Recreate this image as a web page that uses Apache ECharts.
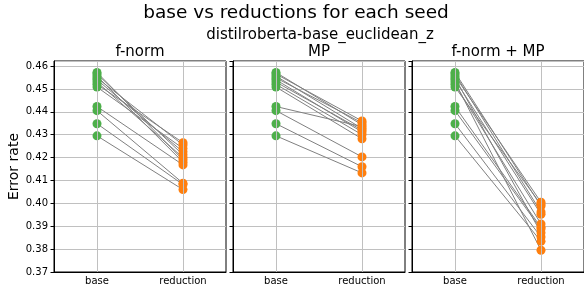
<!DOCTYPE html>
<html>
<head>
<meta charset="utf-8">
<script src="https://cdn.jsdelivr.net/npm/echarts@6/dist/echarts.min.js"></script>
<style>
  html, body { margin: 0; padding: 0; background: #fff; }
  #chart { width: 584px; height: 291px; }
</style>
</head>
<body>
<div id="chart"></div>
<script>
// data
var categories = ["base", "reduction"];
var panelTitles = ["f-norm", "MP", "f-norm + MP"];
var yTickLabels = ["0.37", "0.38", "0.39", "0.40", "0.41", "0.42", "0.43", "0.44", "0.45", "0.46"];

// one value per seed
var baseRate = [0.4572, 0.4565, 0.4556, 0.4548, 0.4540, 0.4530, 0.4520, 0.4508, 0.4423, 0.4405, 0.4348, 0.4295];
var fnormRate = [0.4190, 0.4212, 0.4180, 0.4255, 0.4225, 0.4200, 0.4265, 0.4240, 0.4168, 0.4088, 0.4082, 0.4060];
var mpRate = [0.4343, 0.4360, 0.4327, 0.4352, 0.4312, 0.4320, 0.4300, 0.4282, 0.4335, 0.4203, 0.4160, 0.4133];
var fnormMpRate = [0.3988, 0.3962, 0.4005, 0.3871, 0.3952, 0.3795, 0.3910, 0.3995, 0.3895, 0.3888, 0.3853, 0.3834];

var reductions = [fnormRate, mpRate, fnormMpRate];

var font = "DejaVu Sans";
var panelLeft = [54, 233, 412];
var panelWidth = 172;

var chart = echarts.init(document.getElementById("chart"));

var grids = [], xAxes = [], yAxes = [], series = [], graphics = [];

graphics.push({
  type: "text", x: 296, y: 13,
  style: { text: "base vs reductions for each seed", font: "18.5px " + font, fill: "#000", textAlign: "center", textVerticalAlign: "middle" }
});
graphics.push({
  type: "text", x: 320, y: 35,
  style: { text: "distilroberta-base_euclidean_z", font: "15px " + font, fill: "#000", textAlign: "center", textVerticalAlign: "middle" }
});

panelTitles.forEach(function (name, g) {
  grids.push({
    left: panelLeft[g], top: 61, width: panelWidth, height: 211,
    show: true, borderColor: "#000", borderWidth: 1, backgroundColor: "transparent"
  });

  graphics.push({
    type: "text", x: panelLeft[g] + panelWidth / 2, y: 52,
    style: { text: name, font: "15px " + font, fill: "#000", textAlign: "center", textVerticalAlign: "middle" }
  });

  xAxes.push({
    type: "category", gridIndex: g, data: categories, boundaryGap: true,
    axisLine: { lineStyle: { color: "#000", width: 1 } },
    axisTick: { alignWithLabel: true, length: 3.5, lineStyle: { color: "#000" } },
    axisLabel: { fontFamily: font, fontSize: 10, color: "#000", margin: 4 },
    splitLine: { show: false }
  });

  yAxes.push({
    type: "value", gridIndex: g, min: 0.37, max: 0.4622, interval: 0.01,
    name: g === 0 ? "Error rate" : "",
    nameLocation: "middle", nameGap: 33,
    nameTextStyle: { fontFamily: font, fontSize: 14, color: "#000" },
    axisLine: { show: true, lineStyle: { color: "#000", width: 1 } },
    axisTick: { show: true, length: 3.5, lineStyle: { color: "#000" } },
    axisLabel: {
      show: g === 0, fontFamily: font, fontSize: 10, color: "#000", margin: 6,
      showMaxLabel: false,
      formatter: function (v) {
        var idx = Math.round((v - 0.37) / 0.01);
        return yTickLabels[idx] || "";
      }
    },
    splitLine: { show: true, lineStyle: { color: "#c0c0c0", width: 1 } }
  });

  // vertical grid lines at the two categories
  series.push({
    type: "line", xAxisIndex: g, yAxisIndex: g, data: [], z: 1, silent: true,
    markLine: {
      silent: true, symbol: "none", label: { show: false },
      lineStyle: { color: "#c0c0c0", width: 1, type: "solid" },
      data: categories.map(function (c) { return { xAxis: c }; })
    }
  });

  var red = reductions[g];
  baseRate.forEach(function (b, i) {
    series.push({
      type: "line", xAxisIndex: g, yAxisIndex: g, data: [b, red[i]],
      symbol: "none", silent: true, z: 2,
      lineStyle: { color: "#808080", width: 1 }
    });
  });

  series.push({
    type: "scatter", xAxisIndex: g, yAxisIndex: g, z: 3, symbolSize: 9,
    itemStyle: { color: "#4daf4a", opacity: 1 },
    data: baseRate.map(function (v) { return [0, v]; })
  });
  series.push({
    type: "scatter", xAxisIndex: g, yAxisIndex: g, z: 3, symbolSize: 9,
    itemStyle: { color: "#ff7f0e", opacity: 1 },
    data: red.map(function (v) { return [1, v]; })
  });
});

chart.setOption({
  animation: false,
  backgroundColor: "#fff",
  grid: grids,
  xAxis: xAxes,
  yAxis: yAxes,
  series: series,
  graphic: graphics
});
</script>
</body>
</html>
